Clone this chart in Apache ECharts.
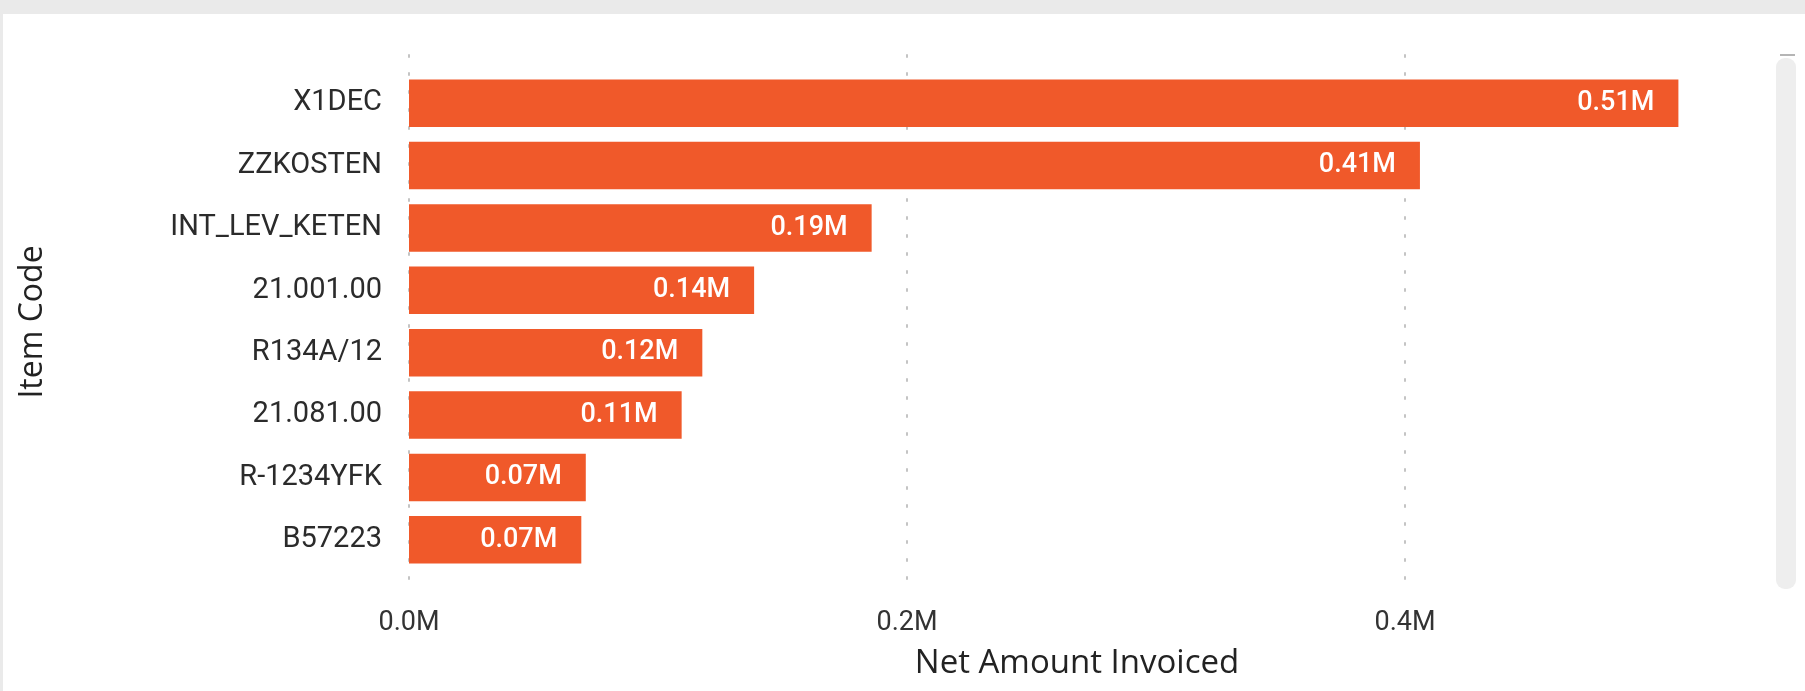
<!DOCTYPE html>
<html>
<head>
<meta charset="utf-8">
<script src="https://cdn.jsdelivr.net/npm/echarts@6/dist/echarts.min.js"></script>
<style>
html,body{margin:0;padding:0;background:#ffffff;}
#chart{width:1805px;height:691px;}
</style>
</head>
<body>
<div id="chart"></div>
<script>
const categories = ['X1DEC', 'ZZKOSTEN', 'INT_LEV_KETEN', '21.001.00', 'R134A/12', '21.081.00', 'R-1234YFK', 'B57223'];
const netAmount = [509800, 406000, 185800, 138600, 117800, 109500, 71000, 69200];
const xTicks = [0, 200000, 400000];
const xTitle = 'Net Amount Invoiced';
const yTitle = 'Item Code';

const AX_MIN = 0, AX_MAX = 600000, AX_STEP = 200000;
const chart = echarts.init(document.getElementById('chart'), null, {renderer: 'canvas'});
const labelFont = 'Roboto, "DejaVu Sans", sans-serif';
const titleFont = '"Open Sans", "Noto Sans", sans-serif';
const fmtM = (v, d) => (v / 1e6).toFixed(d) + 'M';

chart.setOption({
  animation: false,
  backgroundColor: '#ffffff',
  grid: [
    {left: 409, right: -98, top: 72, height: 499, outerBoundsMode: 'none'},
    {left: 409, right: -98, top: 55, height: 537, outerBoundsMode: 'none'}
  ],
  xAxis: [
    {gridIndex: 0, type: 'value', min: AX_MIN, max: AX_MAX, interval: AX_STEP,
     axisLine: {show: false}, axisTick: {show: false}, axisLabel: {show: false}, splitLine: {show: false}},
    {gridIndex: 1, type: 'value', min: AX_MIN, max: AX_MAX, interval: AX_STEP,
     axisLine: {show: false}, axisTick: {show: false},
     axisLabel: {show: true, margin: 31, verticalAlign: 'middle', color: '#333333', fontFamily: labelFont, fontSize: 27,
       formatter: v => xTicks.indexOf(v) >= 0 ? fmtM(v, 1) : ''},
     splitLine: {show: true, lineStyle: {color: '#c4c4c4', width: 2, type: [2, 16], cap: 'round'}}}
  ],
  yAxis: [
    {gridIndex: 0, type: 'category', data: categories, inverse: true,
     axisLine: {show: false}, axisTick: {show: false},
     axisLabel: {margin: 27, color: '#2b2b2b', fontFamily: labelFont, fontSize: 29}},
    {gridIndex: 1, type: 'value', show: false}
  ],
  series: [{
    type: 'bar', xAxisIndex: 0, yAxisIndex: 0,
    data: netAmount,
    barCategoryGap: '24%',
    itemStyle: {color: '#F0592A'},
    label: {show: true, position: 'insideRight', distance: 24, color: '#ffffff',
      fontFamily: labelFont, fontSize: 27, fontWeight: 500,
      formatter: p => fmtM(p.value, 2)}
  }],
  graphic: [
    {type: 'rect', shape: {x: 0, y: 0, width: 1805, height: 14}, style: {fill: '#eaeaea'}, silent: true},
    {type: 'rect', shape: {x: 0, y: 0, width: 3, height: 691}, style: {fill: '#eaeaea'}, silent: true},
    {type: 'rect', shape: {x: 1776, y: 58, width: 20, height: 531, r: 9}, style: {fill: '#eeeeee'}, silent: true},
    {type: 'rect', shape: {x: 1780, y: 54, width: 15, height: 2}, style: {fill: '#b5b5b5'}, silent: true},
    {type: 'text', x: 1077, y: 664, style: {text: xTitle, fontFamily: titleFont, fontSize: 33, fill: '#222222', align: 'center', verticalAlign: 'middle'}, silent: true},
    {type: 'text', x: 33, y: 322, rotation: Math.PI / 2, style: {text: yTitle, fontFamily: titleFont, fontSize: 32, fill: '#222222', align: 'center', verticalAlign: 'middle'}, silent: true}
  ]
});
</script>
</body>
</html>
